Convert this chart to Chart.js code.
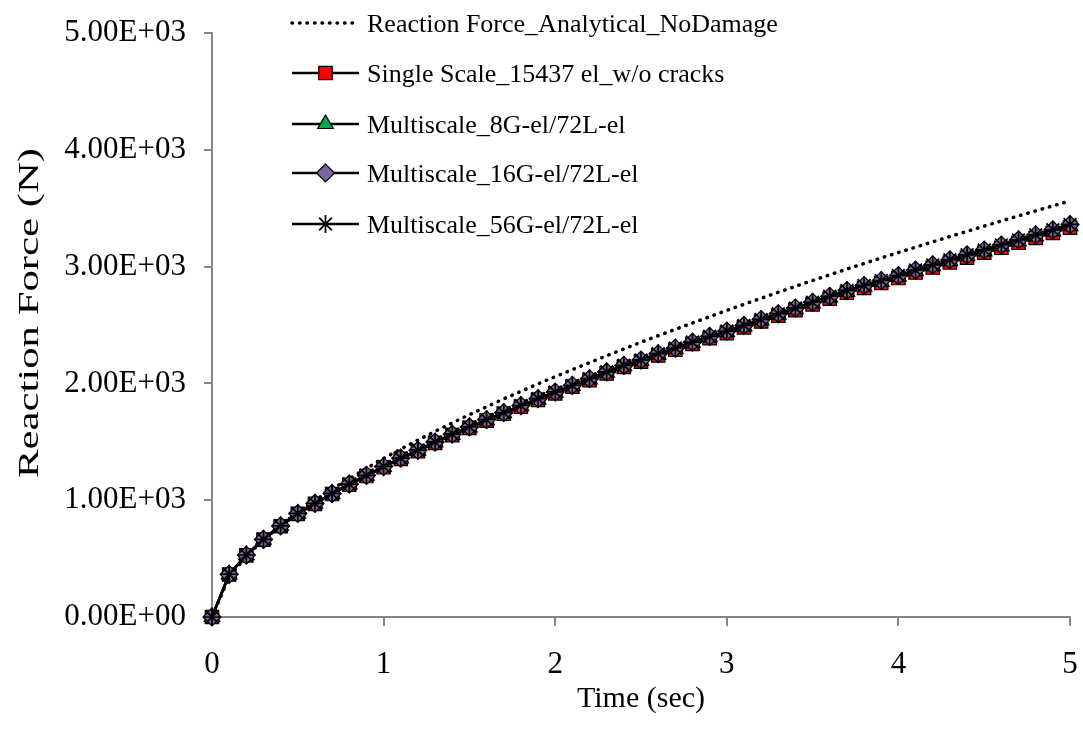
<!DOCTYPE html>
<html>
<head>
<meta charset="utf-8">
<script src="https://cdn.jsdelivr.net/npm/chart.js"></script>
<style>
    body { margin: 0; background: #fff; }
    #wrap { width: 1083px; height: 739px; }
</style>
</head>
<body>
<div id="wrap"><canvas id="chart1" width="1083" height="739"></canvas></div>
<script>
// time steps (sec)
let times = [0, 0.1, 0.2, 0.3, 0.4, 0.5, 0.6, 0.7, 0.8, 0.9,
    1.0, 1.1, 1.2, 1.3, 1.4, 1.5, 1.6, 1.7, 1.8, 1.9,
    2.0, 2.1, 2.2, 2.3, 2.4, 2.5, 2.6, 2.7, 2.8, 2.9,
    3.0, 3.1, 3.2, 3.3, 3.4, 3.5, 3.6, 3.7, 3.8, 3.9,
    4.0, 4.1, 4.2, 4.3, 4.4, 4.5, 4.6, 4.7, 4.8, 4.9, 5.0];

let analytical = [0, 342, 519, 662, 787, 896, 999, 1095, 1184, 1273,
    1358, 1437, 1515, 1590, 1662, 1732, 1800, 1867, 1932, 1996,
    2058, 2118, 2178, 2237, 2295, 2353, 2408, 2463, 2517, 2571,
    2625, 2677, 2729, 2780, 2831, 2881, 2930, 2979, 3027, 3074,
    3120, 3166, 3212, 3257, 3302, 3347, 3391, 3434, 3477, 3520, 3562];

let singleScale = [0, 364, 528, 662, 777, 883, 968, 1053, 1132, 1207,
    1282, 1354, 1420, 1491, 1557, 1619, 1681, 1740, 1800, 1859,
    1915, 1972, 2028, 2086, 2141, 2187, 2240, 2288, 2338, 2387,
    2431, 2480, 2530, 2579, 2627, 2677, 2726, 2776, 2818, 2860,
    2902, 2949, 2992, 3035, 3077, 3119, 3161, 3204, 3246, 3289, 3334];

let multi8G = [0, 364, 529, 663, 779, 885, 970, 1055, 1135, 1210,
    1285, 1357, 1424, 1495, 1561, 1623, 1686, 1745, 1805, 1864,
    1921, 1978, 2034, 2092, 2148, 2194, 2247, 2295, 2346, 2395,
    2439, 2488, 2539, 2588, 2636, 2686, 2736, 2786, 2828, 2870,
    2913, 2960, 3003, 3046, 3089, 3131, 3173, 3216, 3259, 3302, 3347];

let multi16G = [0, 365, 530, 664, 780, 886, 972, 1057, 1137, 1212,
    1288, 1360, 1427, 1498, 1565, 1627, 1690, 1749, 1810, 1869,
    1926, 1983, 2040, 2098, 2154, 2200, 2254, 2302, 2353, 2402,
    2447, 2496, 2547, 2596, 2645, 2695, 2745, 2795, 2838, 2880,
    2923, 2970, 3014, 3057, 3100, 3142, 3185, 3228, 3271, 3314, 3360];

let multi56G = [0, 366, 531, 665, 781, 887, 973, 1058, 1138, 1213,
    1289, 1361, 1428, 1499, 1566, 1628, 1691, 1750, 1811, 1870,
    1927, 1984, 2041, 2099, 2155, 2201, 2255, 2303, 2354, 2403,
    2448, 2497, 2548, 2597, 2646, 2696, 2746, 2796, 2839, 2881,
    2924, 2971, 3015, 3058, 3101, 3143, 3186, 3229, 3272, 3315, 3361];

let seriesLabels = ["Reaction Force_Analytical_NoDamage",
    "Single Scale_15437 el_w/o cracks",
    "Multiscale_8G-el/72L-el",
    "Multiscale_16G-el/72L-el",
    "Multiscale_56G-el/72L-el"];

let xTitle = "Time (sec)",
    yTitle = "Reaction Force (N)";

const serif = "'Liberation Serif', 'Times New Roman', serif";
const axisGray = "#868686";

function toPoints(ys) {
    return ys.map((v, i) => ({ x: times[i], y: v }));
}

// 5000 -> 5.00E+03
function sciLabel(v) {
    let parts = Number(v).toExponential(2).split("e");
    let ex = parseInt(parts[1], 10);
    let sign = ex < 0 ? "-" : "+";
    ex = Math.abs(ex);
    return parts[0] + "E" + sign + (ex < 10 ? "0" + ex : "" + ex);
}

function markerSet(style, fill, r, order) {
    return {
        pointStyle: style,
        pointRadius: r,
        pointHoverRadius: r,
        pointBackgroundColor: fill,
        pointBorderColor: "#000",
        pointBorderWidth: style == "star" ? 1.7 : 1.2,
        borderColor: "#000",
        borderWidth: 2.5,
        tension: 0,
        clip: false,
        order: order
    };
}

let datasets = [
    Object.assign({ label: seriesLabels[0], data: toPoints(analytical) }, {
        borderColor: "#000", borderWidth: 3.5, borderDash: [0.5, 7], borderCapStyle: "round",
        pointRadius: 0, pointHoverRadius: 0, tension: 0, clip: false, order: 4
    }),
    Object.assign({ label: seriesLabels[1], data: toPoints(singleScale) }, markerSet("rect", "#FF0000", 9.5, 3)),
    Object.assign({ label: seriesLabels[2], data: toPoints(multi8G) }, markerSet("triangle", "#00A650", 9, 2)),
    Object.assign({ label: seriesLabels[3], data: toPoints(multi16G) }, markerSet("rectRot", "#8064A2", 9, 1)),
    Object.assign({ label: seriesLabels[4], data: toPoints(multi56G) }, markerSet("star", "#000", 9, 0))
];

// legend + axis titles drawn straight on the canvas
const extrasPlugin = {
    id: "extras",
    afterDraw(chart) {
        let ctx = chart.ctx;
        let area = chart.chartArea;
        ctx.save();

        // axis titles
        ctx.fillStyle = "#000";
        ctx.font = "30px " + serif;
        ctx.textAlign = "center";
        ctx.textBaseline = "middle";
        ctx.fillText(xTitle, (area.left + area.right) / 2, 699);
        ctx.save();
        ctx.translate(30, 313);
        ctx.rotate(-Math.PI / 2);
        // the reference title is stretched along its length
        let w = ctx.measureText(yTitle).width;
        ctx.scale(330 / w, 1);
        ctx.fillText(yTitle, 0, 0);
        ctx.restore();

        // legend
        let rows = [23, 73, 124, 173, 224];
        ctx.font = "26px " + serif;
        ctx.textAlign = "left";
        ctx.textBaseline = "alphabetic";
        datasets.forEach((ds, i) => {
            let y = rows[i];
            ctx.save();
            ctx.strokeStyle = "#000";
            if (i == 0) {
                ctx.lineWidth = 3.5;
                ctx.lineCap = "round";
                ctx.setLineDash([0.5, 7]);
            } else {
                ctx.lineWidth = 2.5;
            }
            ctx.beginPath();
            ctx.moveTo(292, y);
            ctx.lineTo(359, y);
            ctx.stroke();
            ctx.restore();
            if (i > 0 && Chart.helpers && Chart.helpers.drawPoint) {
                ctx.save();
                ctx.fillStyle = ds.pointBackgroundColor;
                ctx.strokeStyle = ds.pointBorderColor;
                ctx.lineWidth = ds.pointBorderWidth;
                Chart.helpers.drawPoint(ctx, {
                    pointStyle: ds.pointStyle,
                    radius: ds.pointRadius,
                    rotation: 0,
                    borderWidth: ds.pointBorderWidth
                }, 325.5, y);
                ctx.restore();
            }
            ctx.fillStyle = "#000";
            ctx.fillText(ds.label, 367, y + 8.5);
        });
        ctx.restore();
    }
};

let ctx1 = document.getElementById("chart1").getContext("2d");
let chart1 = new Chart(ctx1, {
    type: "line",
    data: { datasets: datasets },
    options: {
        responsive: false,
        animation: false,
        events: [],
        layout: { padding: { left: 0, right: 13, top: 33, bottom: 0 } },
        plugins: {
            legend: { display: false },
            tooltip: { enabled: false }
        },
        scales: {
            x: {
                type: "linear",
                min: 0,
                max: 5,
                ticks: {
                    stepSize: 1,
                    color: "#000",
                    font: { family: serif, size: 31 },
                    padding: 20,
                    maxRotation: 0
                },
                grid: { drawOnChartArea: false, drawTicks: true, tickLength: 9, color: axisGray, lineWidth: 2 },
                border: { color: axisGray, width: 2 },
                afterFit(scale) {
                    scale.height = 122;
                    scale.paddingLeft = 0;
                    scale.paddingRight = 0;
                }
            },
            y: {
                type: "linear",
                min: 0,
                max: 5000,
                ticks: {
                    stepSize: 1000,
                    color: "#000",
                    font: { family: serif, size: 31 },
                    padding: 18,
                    callback: (v) => sciLabel(v)
                },
                grid: { drawOnChartArea: false, drawTicks: true, tickLength: 8, color: axisGray, lineWidth: 2 },
                border: { color: axisGray, width: 2 },
                afterFit(scale) {
                    scale.width = 212;
                    scale.paddingTop = 0;
                    scale.paddingBottom = 0;
                }
            }
        }
    },
    plugins: [extrasPlugin]
});
</script>
</body>
</html>
